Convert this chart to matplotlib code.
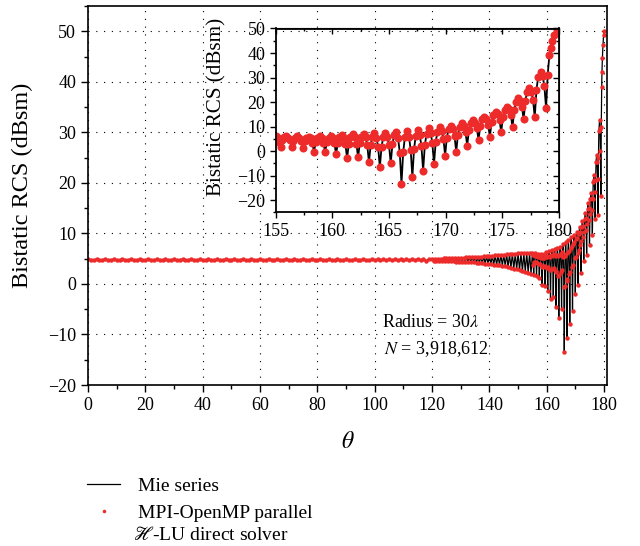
import numpy as np
import matplotlib.pyplot as plt
from matplotlib.ticker import MultipleLocator

plt.rcParams['font.family'] = ['Liberation Serif', 'DejaVu Serif']
plt.rcParams['mathtext.fontset'] = 'stix'

RED = '#ee2b2b'

# flat part of the pattern, 0..119 deg (1 deg steps)
theta_a = np.arange(0, 120, 1.0)
rcs_a = [
    4.9, 4.8, 4.8, 4.9, 4.8, 4.8, 4.9, 4.8, 4.8, 4.9,
    4.8, 4.8, 4.9, 4.8, 4.8, 4.9, 4.8, 4.8, 4.9, 4.8,
    4.8, 4.9, 4.8, 4.8, 4.9, 4.8, 4.8, 4.9, 4.8, 4.8,
    4.9, 4.8, 4.8, 4.9, 4.8, 4.8, 4.9, 4.8, 4.8, 4.9,
    4.8, 4.8, 4.9, 4.8, 4.8, 4.9, 4.8, 4.8, 4.9, 4.8,
    4.8, 4.9, 4.8, 4.8, 4.9, 4.8, 4.8, 4.9, 4.8, 4.8,
    4.9, 4.8, 4.8, 4.9, 4.8, 4.8, 4.9, 4.8, 4.8, 4.9,
    4.8, 4.8, 4.9, 4.8, 4.8, 4.9, 4.8, 4.8, 4.9, 4.8,
    4.8, 4.9, 4.8, 4.7, 4.9, 4.8, 4.7, 4.9, 4.8, 4.7,
    4.9, 4.8, 4.7, 4.9, 4.8, 4.7, 4.9, 4.8, 4.7, 4.9,
    4.7, 4.9, 4.7, 4.9, 4.7, 4.9, 4.7, 4.9, 4.7, 4.9,
    4.7, 4.9, 4.7, 4.9, 4.7, 5.0, 4.7, 5.0, 4.6, 5.0,
]

# growing ripple, 120..154.5 deg (peak / trough every half degree)
theta_b = np.arange(120, 155, 0.5)
rcs_b = [
    5.0, 4.6, 5.0, 4.6, 5.0, 4.6, 5.0, 4.6, 5.1, 4.5,
    5.1, 4.5, 5.1, 4.5, 5.1, 4.5, 5.2, 4.4, 5.2, 4.4,
    5.2, 4.4, 5.2, 4.4, 5.3, 4.3, 5.3, 4.3, 5.3, 4.3,
    5.4, 4.2, 5.4, 4.2, 5.4, 4.1, 5.5, 4.0, 5.5, 4.0,
    5.6, 3.9, 5.6, 3.8, 5.7, 3.7, 5.7, 3.7, 5.8, 3.6,
    5.8, 3.5, 5.9, 3.3, 5.9, 3.2, 6.0, 3.0, 6.0, 2.9,
    6.1, 2.7, 6.1, 2.5, 6.1, 2.4, 6.2, 2.2, 6.2, 2.0,
]

# backward region, 155..180 deg
theta_c = [
    155.00, 155.15, 155.30, 155.44, 155.59, 155.74, 155.95, 156.12, 156.27,
    156.42, 156.57, 156.72, 156.92, 157.10, 157.25,
    157.40, 157.55, 157.70, 157.90, 158.08, 158.23,
    158.38, 158.53, 158.68, 158.88, 159.06, 159.21,
    159.36, 159.51, 159.66, 159.85, 160.03, 160.18,
    160.33, 160.48, 160.63, 160.82, 161.00, 161.15,
    161.30, 161.45, 161.60, 161.78, 161.97, 162.12,
    162.27, 162.42, 162.57, 162.75, 162.93, 163.08,
    163.23, 163.38, 163.53, 163.70, 163.89, 164.04,
    164.19, 164.34, 164.49, 164.67, 164.85, 165.00,
    165.15, 165.30, 165.45, 165.62, 165.80, 165.95,
    166.10, 166.25, 166.40, 166.58, 166.76, 166.91,
    167.06, 167.21, 167.36, 167.53, 167.71, 167.86,
    168.01, 168.16, 168.31, 168.50, 168.67, 168.82,
    168.97, 169.12, 169.27, 169.47, 169.65, 169.80,
    169.95, 170.10, 170.25, 170.45, 170.63, 170.78,
    170.93, 171.08, 171.23, 171.43, 171.60, 171.75,
    171.90, 172.05, 172.20, 172.40, 172.60, 172.75,
    172.90, 173.05, 173.20, 173.42, 173.60, 173.75,
    173.90, 174.05, 174.20, 174.40, 174.60, 174.75,
    174.90, 175.05, 175.20, 175.40, 175.60, 175.75,
    175.90, 176.05, 176.20, 176.40, 176.58, 176.73,
    176.88, 177.03, 177.18, 177.38, 177.56, 177.71,
    177.86, 178.01, 178.16, 178.40, 178.56, 178.71,
    178.86, 179.00, 179.15, 179.25, 179.40, 179.60, 179.80, 180.00,
]
rcs_c = [
    6.2, 5.7, 3.7, 1.8, 4.4, 5.6, 6.1, 5.5, 4.3,
    1.5, 4.2, 5.5, 6.0, 5.4, 4.0,
    1.1, 4.0, 5.3, 5.9, 5.2, 3.4,
    -0.3, 3.5, 5.2, 6.0, 5.2, 3.4,
    -0.5, 3.6, 5.5, 6.3, 5.4, 3.2,
    -1.4, 3.4, 5.6, 6.6, 5.4, 2.8,
    -3.0, 2.9, 5.6, 6.8, 5.7, 3.0,
    -2.6, 3.2, 5.9, 7.0, 5.6, 2.4,
    -4.6, 2.5, 5.8, 7.2, 5.5, 1.6,
    -6.7, 1.8, 5.7, 7.4, 5.9, 2.4,
    -5.0, 2.7, 6.4, 7.9, 5.3, -0.7,
    -13.5, -0.5, 5.6, 8.2, 5.9, 0.6,
    -10.7, 0.9, 6.3, 8.6, 6.6, 2.0,
    -8.0, 2.3, 7.1, 9.2, 7.5, 3.4,
    -5.3, 3.7, 7.9, 9.7, 8.3, 5.1,
    -1.9, 5.4, 8.8, 10.3, 9.0, 6.1,
    -0.3, 6.7, 9.9, 11.3, 10.2, 7.7,
    2.2, 8.4, 11.3, 12.5, 11.5, 9.3,
    4.5, 10.2, 12.9, 14.0, 13.0, 10.7,
    5.8, 11.9, 14.8, 16.0, 15.0, 12.7,
    7.7, 13.9, 16.8, 18.0, 17.0, 14.7,
    9.7, 16.8, 20.1, 21.5, 20.5, 18.1,
    12.9, 20.5, 24.1, 25.6, 24.2, 20.8,
    13.7, 24.9, 30.2, 32.4, 30.6, 26.4,
    17.4, 31.0, 39.0, 42.0, 44.8, 47.3, 49.2, 50.0,
]

theta = np.concatenate([theta_a, theta_b, theta_c])
rcs = np.concatenate([rcs_a, rcs_b, rcs_c])

fig = plt.figure(figsize=(6.4, 5.46), dpi=100)
ax = fig.add_axes([88/640, 1 - 385/546, (607 - 88)/640, (385 - 6)/546])
ax.grid(True, color='k', linestyle=(0, (1, 6)), linewidth=0.8)
ax.set_axisbelow(True)

mie_line, = ax.plot(theta, rcs, color='k', lw=0.9)
mom_dots, = ax.plot(theta, rcs, ls='none', marker='o', ms=3.2, mfc=RED, mec='none')

ax.set_xlim(0, 181)
ax.set_ylim(-20, 55)
ax.set_xticks(np.arange(0, 181, 20))
ax.set_yticks(np.arange(-20, 51, 10))
ax.xaxis.set_minor_locator(MultipleLocator(10))
ax.yaxis.set_minor_locator(MultipleLocator(5))
ax.tick_params(which='both', direction='out', top=False, right=False, labelsize=13, width=1)
ax.tick_params(which='major', length=5)
ax.tick_params(which='minor', length=3)
for s in ax.spines.values():
    s.set_linewidth(1.2)
ax.set_xlabel(r'$\theta$', fontsize=17, labelpad=13)
ax.set_ylabel('Bistatic RCS (dBsm)', fontsize=17.5)
ax.yaxis.set_label_coords(-0.105, 0.528)

ax.text(0.567, 0.165, r'Radius = 30$\lambda$', transform=ax.transAxes, fontsize=13, va='center')
ax.text(0.571, 0.095, r'$N$ = 3,918,612', transform=ax.transAxes, fontsize=13, va='center')

# inset: zoom on the backward lobes
axin = fig.add_axes([275.7/640, 1 - 212.3/546, (559 - 275.7)/640, (212.3 - 28.5)/546])
axin.set_facecolor('none')
axin.plot(theta_c, rcs_c, color='k', lw=1.3)
axin.plot(theta_c, rcs_c, ls='none', marker='o', ms=5.8, mfc=RED, mec='none')
axin.set_xlim(155, 180)
axin.set_ylim(-25, 50)
axin.set_xticks(np.arange(155, 181, 5))
axin.set_yticks(np.arange(-20, 51, 10))
axin.xaxis.set_minor_locator(MultipleLocator(2.5))
axin.yaxis.set_minor_locator(MultipleLocator(5))
axin.tick_params(which='both', direction='out', labelsize=13, width=1)
axin.tick_params(which='major', length=4)
axin.tick_params(which='minor', length=2.5)
for s in axin.spines.values():
    s.set_linewidth(1.3)
axin.set_ylabel('Bistatic RCS (dBsm)', fontsize=15.2)
axin.yaxis.set_label_coords(-0.175, 0.573)

top = axin.secondary_xaxis('top')
top.set_xticks(np.arange(155, 181, 5))
top.xaxis.set_minor_locator(MultipleLocator(2.5))
top.tick_params(which='both', direction='in', labeltop=False, width=1)
top.tick_params(which='major', length=4)
top.tick_params(which='minor', length=2.5)
right = axin.secondary_yaxis('right')
right.set_yticks(np.arange(-20, 51, 10))
right.yaxis.set_minor_locator(MultipleLocator(5))
right.tick_params(which='both', direction='in', labelright=False, width=1)
right.tick_params(which='major', length=4)
right.tick_params(which='minor', length=2.5)

fig.legend(handles=[mie_line, mom_dots], labels=['Mie series', 'MPI-OpenMP parallel'],
           loc='upper left', bbox_to_anchor=(87/640, 1 - 477/546), frameon=False,
           fontsize=14, handlelength=1.7, handletextpad=0.9, labelspacing=0.5,
           borderpad=0, borderaxespad=0, markerscale=0.8)
fig.text(133/640, 1 - 535/546, r'$\mathscr{H}$-LU direct solver', fontsize=14, va='center')

fig.savefig('out.png', dpi=100)
